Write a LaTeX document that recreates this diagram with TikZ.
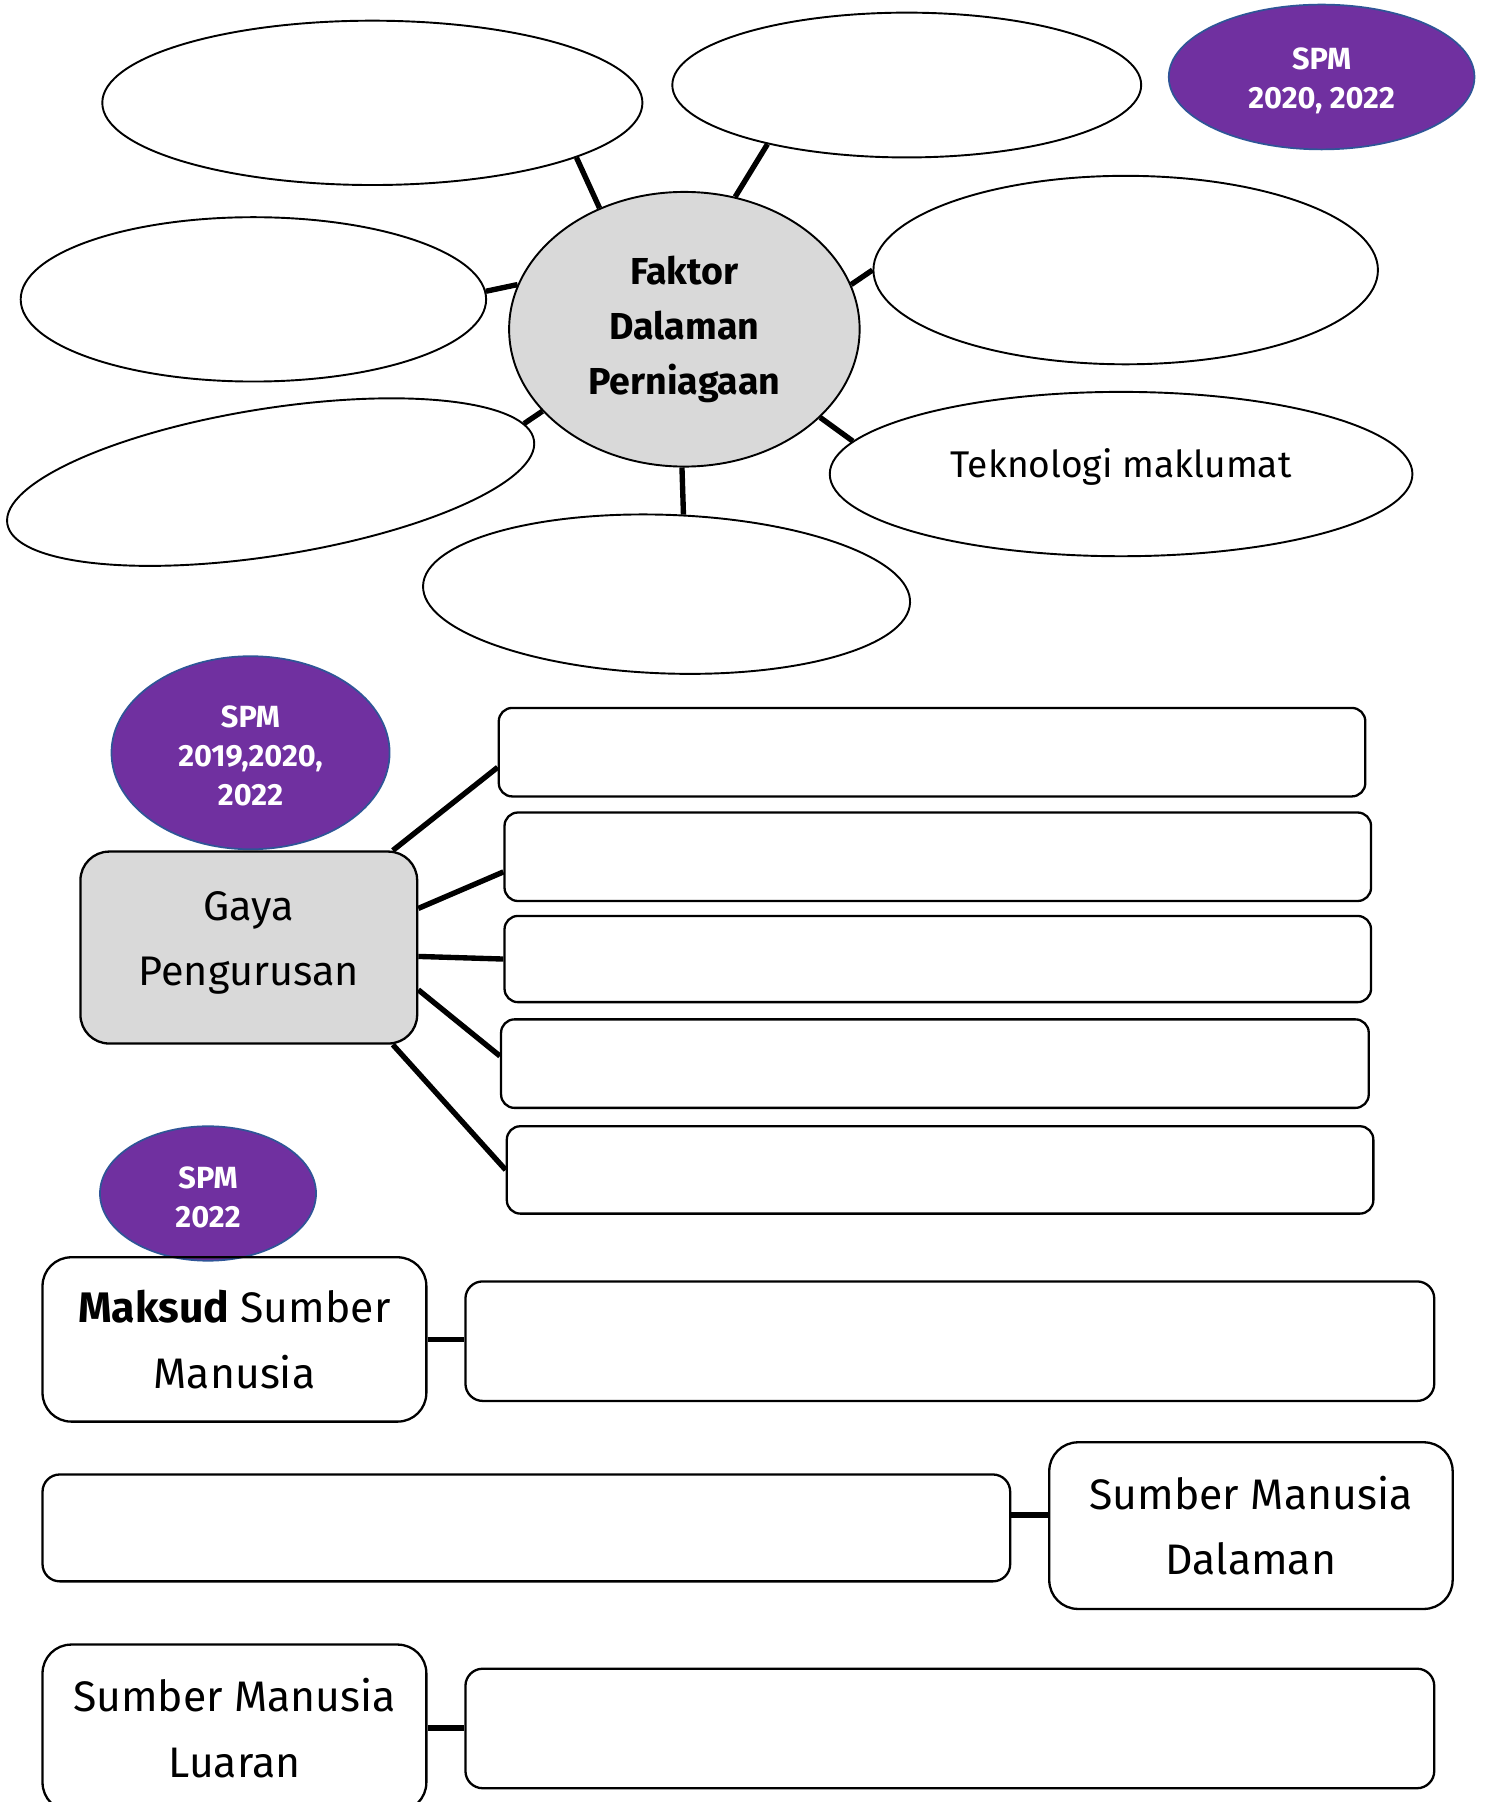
\documentclass[tikz,border=0pt]{standalone}
\usepackage{fontspec}
\setmainfont{Fira Sans}
\usetikzlibrary{shapes.geometric,calc}
\definecolor{spmpurple}{HTML}{7030A0}
\definecolor{spmedge}{HTML}{2F5597}
\definecolor{lgray}{HTML}{D9D9D9}
\newcommand{\topstrut}{\rule{0pt}{15pt}}
\newcommand{\botstrut}{\rule[-9.3pt]{0pt}{0pt}}
\begin{document}
\begin{tikzpicture}[x=0.6pt,y=-0.6pt,
  oval/.style={ellipse,draw,line width=1pt,inner sep=0pt},
  spm/.style={ellipse,draw=spmedge,fill=spmpurple,line width=0.9pt,inner sep=0pt,
    text=white,font=\bfseries\fontsize{16}{20.4}\selectfont,align=center},
  link/.style={line width=2.8pt},
  ansbox/.style={rectangle,rounded corners=7pt,draw,line width=1.2pt,inner sep=0pt,fill=white},
  labbox/.style={rectangle,rounded corners=15pt,draw,line width=1.2pt,inner sep=0pt,
    align=center,font=\fontsize{22.3}{34.2}\selectfont},
]
\clip (0,0) rectangle (1293,1568);
\fill[white] (0,0) rectangle (1293,1568);

% ---------- Faktor Dalaman Perniagaan ----------
\node[oval,minimum width=282pt,minimum height=85.8pt] (tl) at (324,89.5) {};
\node[oval,minimum width=244.8pt,minimum height=75.6pt] (tm) at (789,74) {};
\node[spm,minimum width=159.6pt,minimum height=75.6pt] (s1) at (1150,67) {\topstrut SPM\\2020, 2022};
\node[oval,minimum width=243pt,minimum height=85.8pt] (lf) at (220.5,260.5) {};
\node[oval,fill=lgray,minimum width=183pt,minimum height=143.4pt,align=center,
  font=\bfseries\fontsize{19.6}{28.8}\selectfont] (c) at (595.5,286.5) {Faktor\\Dalaman\\Perniagaan};
\node[oval,minimum width=263.4pt,minimum height=98.4pt] (rt) at (979.5,235) {};
\node[oval,rotate=9,minimum width=278.4pt,minimum height=76.8pt] (bl) at (235.5,419.5) {};
\node[oval,rotate=-2,minimum width=254.4pt,minimum height=82.8pt] (bm) at (580,517) {};
\node[oval,minimum width=304.2pt,minimum height=85.8pt,text depth=11.5pt,
  font=\fontsize{19.4}{24}\selectfont] (tek) at (975.5,412.5) {Teknologi maklumat};

\draw[link] (c.125) -- (tl.345);
\draw[link] (c.69) -- (tm.203);
\draw[link] (c.165) -- (lf.2);
\draw[link] (c.15) -- (rt.180);
\draw[link] (c.210) -- (bl.4);
\draw[link] (c.269) -- (bm.80);
\draw[link] (c.327) -- (tek.173);

% ---------- Gaya Pengurusan ----------
\node[spm,minimum width=145.2pt,minimum height=100.8pt] (s2) at (218,655) {\topstrut SPM\\2019,2020,\\2022};
\node[labbox,fill=lgray,minimum width=175.8pt,minimum height=100.2pt,
  font=\fontsize{21.6}{34.2}\selectfont] (g) at (216.5,824.5) {Gaya\\Pengurusan\botstrut};
\node[ansbox,minimum width=452.4pt,minimum height=46.2pt] (r1) at (811,654.5) {};
\node[ansbox,minimum width=452.4pt,minimum height=46.2pt] (r2) at (816,745.5) {};
\node[ansbox,minimum width=452.4pt,minimum height=45pt] (r3) at (816,834.5) {};
\node[ansbox,minimum width=453pt,minimum height=46.2pt] (r4) at (813.5,925.5) {};
\node[ansbox,minimum width=452.4pt,minimum height=45.6pt] (r5) at (818,1018) {};

\draw[link] (g.34) -- (r1.182);
\draw[link] (g.13) -- (r2.182);
\draw[link] (g.-3) -- (r3.180);
\draw[link] (g.-14) -- (r4.179);
\draw[link] (g.-34) -- (r5.west);

% ---------- Sumber Manusia ----------
\node[spm,minimum width=112.8pt,minimum height=70.2pt] (s3) at (181,1038.5) {\topstrut SPM\\2022};
\node[labbox,minimum width=200.4pt,minimum height=85.8pt] (m) at (204,1165.5) {{\bfseries Maksud} Sumber\\Manusia};
\node[ansbox,rounded corners=9pt,minimum width=505.8pt,minimum height=62.4pt] (mr) at (826.5,1167) {};
\draw[link,line width=3pt] (m.east) -- (m.east -| mr.west);

\node[ansbox,rounded corners=9pt,minimum width=505.2pt,minimum height=55.8pt] (dl) at (458,1329.5) {};
\node[labbox,minimum width=210.6pt,minimum height=87pt] (dr) at (1088.5,1327.5) {Sumber Manusia\\Dalaman};
\coordinate (dj) at ($(dl.east)+(0,-11)$);
\draw[link,line width=3pt] (dj) -- (dj -| dr.west);

\node[labbox,minimum width=200.4pt,minimum height=87pt] (lu) at (204,1503.5) {Sumber Manusia\\Luaran};
\node[ansbox,rounded corners=9pt,minimum width=505.8pt,minimum height=62.4pt] (lr) at (826.5,1504) {};
\draw[link,line width=3pt] (lu.east) -- (lu.east -| lr.west);
\end{tikzpicture}
\end{document}
